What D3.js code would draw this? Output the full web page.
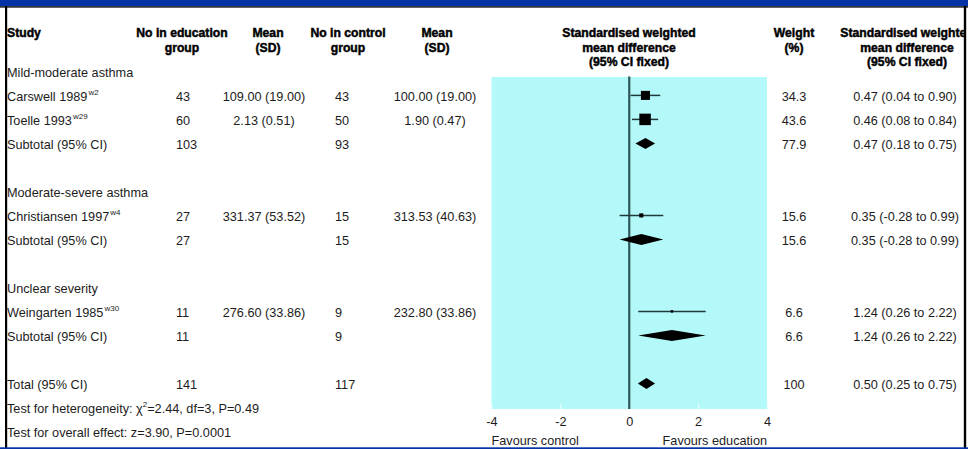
<!DOCTYPE html>
<html><head><meta charset="utf-8">
<script src="https://cdn.jsdelivr.net/npm/d3@7"></script>
<style>body{margin:0;background:#fff}svg{display:block}</style>
</head><body><svg id="c" width="968" height="449"></svg>
<script>
// ---- data ----
const studies = ["Carswell 1989", "Toelle 1993", "Christiansen 1997", "Weingarten 1985"];
const refs = ["w2", "w29", "w4", "w30"];
const nEdu = [43, 60, 27, 11];
const meanEdu = ["109.00 (19.00)", "2.13 (0.51)", "331.37 (53.52)", "276.60 (33.86)"];
const nCtl = [43, 50, 15, 9];
const meanCtl = ["100.00 (19.00)", "1.90 (0.47)", "313.53 (40.63)", "232.80 (33.86)"];
const smd = [0.47, 0.46, 0.35, 1.24];
const lo = [0.04, 0.08, -0.28, 0.26];
const hi = [0.90, 0.84, 0.99, 2.22];
const weight = [34.3, 43.6, 15.6, 6.6];

const groupNames = ["Mild-moderate asthma", "Moderate-severe asthma", "Unclear severity"];
const groupStudies = [[0, 1], [2], [3]];
const subEdu = [103, 27, 11];
const subCtl = [93, 15, 9];
const subWeight = [77.9, 15.6, 6.6];
const subSmd = [0.47, 0.35, 1.24];
const subLo = [0.18, -0.28, 0.26];
const subHi = [0.75, 0.99, 2.22];

const totalEdu = 141, totalCtl = 117, totalWeight = 100;
const totalSmd = 0.50, totalLo = 0.25, totalHi = 0.75;
const heterogeneity = ["Test for heterogeneity: χ", "2", "=2.44, df=3, P=0.49"];
const overall = "Test for overall effect: z=3.90, P=0.0001";

const ticks = [-4, -2, 0, 2, 4];
const axisLabels = ["Favours control", "Favours education"];

// ---- drawing ----
const svg = d3.select("#c");
const FONT = "'Liberation Sans', Arial, Helvetica, sans-serif";
const FS = 12.7;
const TXT = "#1c1c1c";

const x = d3.scaleLinear().domain([-4, 4]).range([491.5, 767]);
const sq = d3.scaleLinear().domain([0, 43.6]).range([0, 11.5]);
const fmtCI = (m, l, h) => `${m.toFixed(2)} (${l.toFixed(2)} to ${h.toFixed(2)})`;

const rows = [];
groupNames.forEach((g, gi) => {
  rows.push({type: "group", gi});
  groupStudies[gi].forEach(si => rows.push({type: "study", i: si}));
  rows.push({type: "sub", gi});
  rows.push({type: "blank"});
});
rows.push({type: "total"});
rows.push({type: "het"});
rows.push({type: "overall"});
const y = d3.scaleLinear().domain([0, 1]).range([72, 96]);

const col = {study: 7, nEdu: 176, meanEdu: 264, nCtl: 335, meanCtl: 435, weight: 794, ci: 905};

function txt(g, s, xx, yy, anchor = "start", opts = {}) {
  return g.append("text").attr("x", xx).attr("y", yy).attr("dy", "0.36em")
    .attr("text-anchor", anchor).attr("font-family", FONT)
    .attr("font-size", opts.size || FS).attr("fill", opts.fill || TXT)
    .attr("font-weight", opts.bold ? "bold" : "normal")
    .attr("stroke", opts.bold ? "#000" : null).attr("stroke-width", opts.bold ? 0.45 : null)
    .text(s);
}

// panel
svg.append("rect").attr("x", x(-4)).attr("y", 77).attr("width", x(4) - x(-4)).attr("height", 409 - 77)
  .attr("fill", "#b4f9f9");

// axis
const ax = svg.append("g").attr("transform", "translate(0,409)")
  .call(d3.axisBottom(x).tickValues(ticks).tickSize(-5).tickPadding(8).tickFormat(d => String(d)));
ax.select(".domain").remove();
ax.selectAll(".tick line").attr("stroke", "#e6ffff").attr("stroke-width", 1.3);
ax.selectAll(".tick text").attr("font-family", FONT).attr("font-size", FS).attr("fill", TXT);
txt(svg, axisLabels[0], x(-4), 440, "start");
txt(svg, axisLabels[1], x(4), 440, "end");

// zero line
svg.append("line").attr("x1", x(0)).attr("x2", x(0)).attr("y1", 76.5).attr("y2", 409)
  .attr("stroke", "#2e5858").attr("stroke-width", 2.2);

// header
const H = svg.append("g");
const hb = {bold: true, size: 12.2, fill: "#000"};
txt(H, "Study", 7, 33, "start", hb);
[["No in education", "group", 182], ["Mean", "(SD)", 268], ["No in control", "group", 348], ["Mean", "(SD)", 437], ["Weight", "(%)", 794]]
  .forEach(([a, b, cx]) => { txt(H, a, cx, 33, "middle", hb); txt(H, b, cx, 47.5, "middle", hb); });
[629, 907].forEach(cx => {
  txt(H, "Standardised weighted", cx, 33, "middle", hb);
  txt(H, "mean difference", cx, 47.5, "middle", hb);
  txt(H, "(95% CI fixed)", cx, 62, "middle", hb);
});

// rows
const G = svg.append("g");
const DH = 11;
function diamond(yy, m, l, h) {
  G.append("path").attr("d", d3.line()([[x(l), yy], [x(m), yy - DH / 2], [x(h), yy], [x(m), yy + DH / 2]]) + "Z")
    .attr("fill", "#000");
}
rows.forEach((r, ri) => {
  const yy = y(ri);
  const my = yy - 0.6;
  if (r.type === "group") {
    txt(G, groupNames[r.gi], col.study, yy);
  } else if (r.type === "study") {
    const i = r.i;
    const t = txt(G, studies[i], col.study, yy);
    t.append("tspan").attr("font-size", 8).attr("dy", "-0.75em").attr("dx", 1).text(refs[i]);
    txt(G, nEdu[i], col.nEdu, yy);
    txt(G, meanEdu[i], col.meanEdu, yy, "middle");
    txt(G, nCtl[i], col.nCtl, yy);
    txt(G, meanCtl[i], col.meanCtl, yy, "middle");
    txt(G, String(weight[i]), col.weight, yy, "middle");
    txt(G, fmtCI(smd[i], lo[i], hi[i]), col.ci, yy, "middle");
    G.append("line").attr("x1", x(lo[i])).attr("x2", x(hi[i])).attr("y1", my).attr("y2", my)
      .attr("stroke", "#1f3a3a").attr("stroke-width", 1.5);
    const s = Math.max(sq(weight[i]), 2.5);
    G.append("rect").attr("x", x(smd[i]) - s / 2).attr("y", my - s / 2).attr("width", s).attr("height", s)
      .attr("fill", "#000");
  } else if (r.type === "sub") {
    const g = r.gi;
    txt(G, "Subtotal (95% CI)", col.study, yy);
    txt(G, subEdu[g], col.nEdu, yy);
    txt(G, subCtl[g], col.nCtl, yy);
    txt(G, String(subWeight[g]), col.weight, yy, "middle");
    txt(G, fmtCI(subSmd[g], subLo[g], subHi[g]), col.ci, yy, "middle");
    diamond(my, subSmd[g], subLo[g], subHi[g]);
  } else if (r.type === "total") {
    txt(G, "Total (95% CI)", col.study, yy);
    txt(G, totalEdu, col.nEdu, yy);
    txt(G, totalCtl, col.nCtl, yy);
    txt(G, String(totalWeight), col.weight, yy, "middle");
    txt(G, fmtCI(totalSmd, totalLo, totalHi), col.ci, yy, "middle");
    diamond(my, totalSmd, totalLo, totalHi);
  } else if (r.type === "het") {
    const t = txt(G, heterogeneity[0], col.study, yy);
    t.append("tspan").attr("font-size", 8).attr("dy", "-0.75em").text(heterogeneity[1]);
    t.append("tspan").attr("dy", "0.5em").text(heterogeneity[2]);
  } else if (r.type === "overall") {
    txt(G, overall, col.study, yy);
  }
});

// frame
svg.append("rect").attr("x", 964).attr("y", 0).attr("width", 4).attr("height", 449).attr("fill", "#fff");
svg.append("rect").attr("x", 0).attr("y", 0).attr("width", 968).attr("height", 6.3).attr("fill", "#0533a6");
svg.append("rect").attr("x", 0).attr("y", 6.3).attr("width", 968).attr("height", 1.3).attr("fill", "#000");
svg.append("rect").attr("x", 5).attr("y", 6).attr("width", 2.2).attr("height", 442).attr("fill", "#000");
svg.append("rect").attr("x", 963.8).attr("y", 6).attr("width", 2.4).attr("height", 442).attr("fill", "#000");
svg.append("rect").attr("x", 0).attr("y", 447.3).attr("width", 968).attr("height", 1.7).attr("fill", "#0533a6");
</script></body></html>
